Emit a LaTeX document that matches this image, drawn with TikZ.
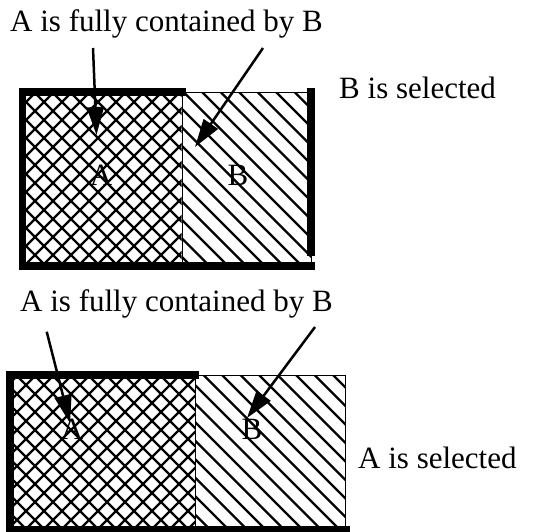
\documentclass[tikz,border=0pt]{standalone}
\usepackage{fontspec}
\setmainfont{Liberation Serif}
\usetikzlibrary{arrows.meta}
\begin{document}
\begin{tikzpicture}[x=1pt,y=-1pt,
    heavy/.style={line width=7.5pt},
    hatch/.style={line width=2.3pt},
    pointer/.style={line width=2.5pt,-{Triangle[length=28pt,width=17pt]}},
    lbl/.style={font=\fontsize{31}{36}\selectfont,inner sep=0pt}]
  \useasboundingbox (0,0) rectangle (534,531);
  % upper case: B is selected
  \begin{scope}
    \clip (22.5,92) rectangle (181.7,266);
    \foreach \c in {-200,-182,...,200} {
      \draw[hatch] (\c,92) -- ++(200,200);
      \draw[hatch] (\c+200,92) -- ++(-200,200);
    }
  \end{scope}
  \begin{scope}
    \clip (181.7,92) rectangle (311,266);
    \foreach \c in {-20,-1.5,...,320} \draw[hatch] (\c,92) -- ++(200,200);
  \end{scope}
  \draw (22.5,92) rectangle (311,266);
  \draw (181.7,92) -- (181.7,266);
  \draw[heavy] (185.7,92) -- (22.5,92) -- (22.5,266) -- (315,266);
  \draw[heavy] (311,88.3) -- (311,256);
  \node[lbl,anchor=base west] (topcap) at (10,31.7) {A is fully contained by B};
  \node[lbl,anchor=base west] (topsel) at (339,98) {B is selected};
  \node[lbl] (topA) at (101,175) {A};
  \node[lbl] (topB) at (238,175) {B};
  \coordinate (p1) at (93,48);
  \coordinate (q1) at (96.5,135);
  \coordinate (p2) at (263,48);
  \coordinate (q2) at (195,147);
  \draw[pointer] (p1) -- (q1);
  \draw[pointer] (p2) -- (q2);
  % lower case: A is selected
  \begin{scope}
    \clip (10,375) rectangle (195,529.5);
    \foreach \c in {-200,-182,...,220} {
      \draw[hatch] (\c,375) -- ++(200,200);
      \draw[hatch] (\c+200,375) -- ++(-200,200);
    }
  \end{scope}
  \begin{scope}
    \clip (195,375) rectangle (345.5,529.5);
    \foreach \c in {0,18.5,...,360} \draw[hatch] (\c,375) -- ++(200,200);
  \end{scope}
  \draw (10,375) rectangle (345.5,529.5);
  \draw (195,375) -- (195,529.5);
  \draw[heavy] (199,375) -- (10,375) -- (10,529.5) -- (350,529.5);
  \node[lbl,anchor=base west] (lowcap) at (20,311.7) {A is fully contained by B};
  \node[lbl,anchor=base west] (lowsel) at (358,468) {A is selected};
  \node[lbl] (lowA) at (72,429) {A};
  \node[lbl] (lowB) at (252,429) {B};
  \coordinate (p3) at (46.7,331.7);
  \coordinate (q3) at (70,423);
  \coordinate (p4) at (315,327);
  \coordinate (q4) at (247,418);
  \draw[pointer] (p3) -- (q3);
  \draw[pointer] (p4) -- (q4);
\end{tikzpicture}
\end{document}
